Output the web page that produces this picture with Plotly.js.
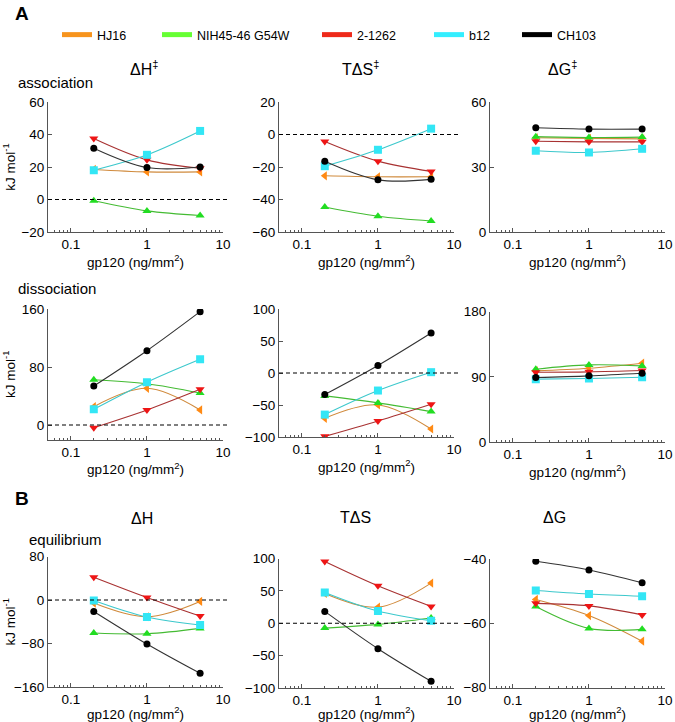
<!DOCTYPE html>
<html>
<head>
<meta charset="utf-8">
<script src="https://cdn.plot.ly/plotly-3.0.1.min.js"></script>
<style>html,body{margin:0;padding:0;background:#fff;}#chart{width:675px;height:722px;}</style>
</head>
<body>
<div id="chart"></div>
<script>
// ---------- DATA ----------
const conc = [0.2, 1, 5]; // gp120 (ng/mm^2)
const seriesNames = ['HJ16', 'NIH45-46 G54W', '2-1262', 'b12', 'CH103'];
const xTickVals = [0.1, 1, 10];
const xTickText = ['0.1', '1', '10'];

// each panel: rows in seriesNames order
const assocDH  = [[18.5, 17, 17], [-0.8, -7, -9.8], [37.5, 24.4, 19.3], [18, 27.5, 42.2], [31.6, 19.7, 20]];
const assocTDS = [[-25.4, -26, -26], [-44.6, -50.3, -53.2], [-4.3, -16.4, -22.7], [-19.5, -9.4, 3.6], [-16.5, -27.9, -27.6]];
const assocDG  = [[43.5, 43.2, 43], [44, 43.6, 43.8], [41.9, 41.6, 41.6], [37.5, 36.7, 38.4], [48.1, 47.5, 47.5]];
const dissocDH  = [[25.3, 50.6, 20.7], [62.5, 57, 44.1], [-3.7, 20.7, 49.2], [21.6, 59, 90.6], [53.8, 102.5, 156.3]];
const dissocTDS = [[-70.8, -49.9, -87.5], [-35.8, -46.7, -60.3], [-99, -74.9, -48.8], [-65, -27.4, 1.3], [-33.7, 11.7, 62.4]];
const dissocDG  = [[98.3, 101.9, 108.8], [100.6, 106.5, 105.1], [96.4, 96.9, 98.7], [86.8, 87.7, 89.5], [89, 91.4, 95]];
const eqDH  = [[-5.7, -30.8, -2.6], [-60.8, -62, -52.2], [42, 4.7, -29.6], [-0.8, -31.4, -46.1], [-21, -81, -134.9]];
const eqTDS = [[46, 24.9, 62], [-7.5, -1.8, 8], [95.4, 57.8, 26], [47.6, 18.8, 3.9], [18.3, -39.3, -89.7]];
const eqDG  = [[-52.6, -57.6, -65.6], [-54.8, -61.6, -61.9], [-53.8, -54.6, -57.4], [-49.8, -50.9, -51.6], [-40.7, -43.4, -47.4]];

const yRanges = [[-20, 60], [-60, 20], [0, 60], [-20, 160], [-100, 100], [0, 180], [-160, 80], [-100, 100], [-80, -40]];
const yTicks = [[-20, 0, 20, 40, 60], [-60, -40, -20, 0, 20], [0, 30, 60], [0, 80, 160], [-100, -50, 0, 50, 100], [0, 90, 180], [-160, -80, 0, 80], [-100, -50, 0, 50, 100], [-80, -60, -40]];
const zeroLine = [true, true, false, true, true, false, true, true, false];

// ---------- STYLE ----------
const W = 675, H = 722;
const markerColors = ['#ff8a14', '#22dd22', '#ee1515', '#33e6f5', '#000000'];
const lineColors = ['#d08a3c', '#44bb33', '#a83232', '#3cc8cc', '#333333'];
const legendColors = ['#f7941d', '#66ff33', '#ee2a1a', '#33eeff', '#000000'];
const symbols = ['triangle-left', 'triangle-up', 'triangle-down', 'square', 'circle'];
const panelData = [assocDH, assocTDS, assocDG, dissocDH, dissocTDS, dissocDG, eqDH, eqTDS, eqDG];
const colPx = [[48, 223], [279, 454], [490, 665]];
const rowPx = [[102, 232], [102, 232], [102, 232], [309, 439.5], [309, 437], [311.7, 442], [556.5, 687], [558.5, 688], [559, 687.5]];
const FONT = 'Liberation Sans, Arial, sans-serif';
const axisCol = '#555555';
const minorVals = [0.05,0.06,0.07,0.08,0.09,0.2,0.3,0.4,0.5,0.6,0.7,0.8,0.9,2,3,4,5,6,7,8,9];

const traces = [];
const layout = {
  width: W, height: H,
  margin: {l: 0, r: 0, t: 0, b: 0},
  paper_bgcolor: '#fff', plot_bgcolor: '#fff',
  font: {family: FONT, size: 13, color: '#000'},
  showlegend: true,
  shapes: [], annotations: []
};

panelData.forEach((pd, p) => {
  const n = p + 1;
  const xa = 'x' + (n === 1 ? '' : n), ya = 'y' + (n === 1 ? '' : n);
  const col = p % 3;
  const row = Math.floor(p / 3);
  pd.forEach((vals, s) => {
    traces.push({
      x: conc, y: vals, xaxis: xa, yaxis: ya, type: 'scatter', mode: 'lines+markers',
      name: seriesNames[s], showlegend: false,
      line: {color: lineColors[s], width: 1.1, shape: 'spline', smoothing: 1},
      marker: {color: markerColors[s], symbol: symbols[s], size: s === 4 ? 7 : 8, line: {width: 0}}
    });
  });
  layout['xaxis' + (n === 1 ? '' : n)] = {
    type: 'log', range: [Math.log10(0.05), 1], anchor: ya,
    domain: [colPx[col][0] / W, colPx[col][1] / W],
    tickmode: 'array', tickvals: xTickVals, ticktext: xTickText,
    ticks: 'inside', ticklen: 4, tickcolor: axisCol,
    minor: {tickmode: 'array', tickvals: minorVals, ticks: 'inside', ticklen: 2, tickcolor: axisCol, showgrid: false},
    showline: true, linecolor: axisCol, linewidth: 1, showgrid: false, zeroline: false,
    tickfont: {size: 13.5, family: FONT},
    title: {text: 'gp120 (ng/mm<sup>2</sup>)', font: {size: 13.5, family: FONT}, standoff: row === 2 ? 5 : 2},
    automargin: false, fixedrange: true
  };
  const yax = {
    range: yRanges[p], anchor: xa,
    domain: [1 - rowPx[p][1] / H, 1 - rowPx[p][0] / H],
    tickmode: 'array', tickvals: yTicks[p],
    ticks: 'inside', ticklen: 4, tickcolor: axisCol,
    showline: true, linecolor: axisCol, linewidth: 1, showgrid: false, zeroline: false,
    tickfont: {size: 13.5, family: FONT},
    automargin: false, fixedrange: true
  };
  if (col === 0) yax.title = {text: 'kJ mol<sup>-1</sup>', font: {size: 13.5, family: FONT}, standoff: 4};
  layout['yaxis' + (n === 1 ? '' : n)] = yax;
  if (zeroLine[p]) {
    layout.shapes.push({type: 'line', xref: xa + ' domain', yref: ya, x0: 0, x1: 1.03, y0: 0, y1: 0,
      line: {color: '#000', width: 1.2, dash: '4px,3px'}});
  }
});

// legend (one small legend per entry, as in the figure)
const legendX = [57, 157, 317, 429, 517];
seriesNames.forEach((nm, s) => {
  const key = s === 0 ? 'legend' : 'legend' + (s + 1);
  traces.push({x: [null], y: [null], xaxis: 'x', yaxis: 'y', type: 'scatter', mode: 'lines', name: nm,
    showlegend: true, legend: key, hoverinfo: 'skip', line: {color: legendColors[s], width: 5}});
  layout[key] = {x: legendX[s] / W, y: 1 - 35 / H, xanchor: 'left', yanchor: 'middle', orientation: 'h',
    bgcolor: 'rgba(0,0,0,0)', borderwidth: 0, itemwidth: 30, font: {size: 12.5, family: FONT}};
});

function ann(text, xpx, ypx, opts) {
  layout.annotations.push(Object.assign({text: text, xref: 'paper', yref: 'paper', x: xpx / W, y: 1 - ypx / H,
    showarrow: false, xanchor: 'center', yanchor: 'middle', font: {size: 15, family: FONT, color: '#000'}}, opts || {}));
}
ann('<b>A</b>', 13, 13, {xanchor: 'left', font: {size: 19, family: FONT, color: '#000'}});
ann('<b>B</b>', 13, 499, {xanchor: 'left', font: {size: 19, family: FONT, color: '#000'}});
ann('association', 16, 82, {xanchor: 'left'});
ann('dissociation', 16, 288, {xanchor: 'left'});
ann('equilibrium', 27, 539, {xanchor: 'left'});
ann('ΔH<sup>‡</sup>', 144, 68, {font: {size: 16, family: FONT, color: '#000'}});
ann('TΔS<sup>‡</sup>', 360, 68, {font: {size: 16, family: FONT, color: '#000'}});
ann('ΔG<sup>‡</sup>', 562, 68, {font: {size: 16, family: FONT, color: '#000'}});
ann('ΔH', 142, 518, {font: {size: 16, family: FONT, color: '#000'}});
ann('TΔS', 355, 517, {font: {size: 16, family: FONT, color: '#000'}});
ann('ΔG', 554, 517, {font: {size: 16, family: FONT, color: '#000'}});

Plotly.newPlot('chart', traces, layout, {displayModeBar: false, staticPlot: true});
</script>
</body>
</html>
